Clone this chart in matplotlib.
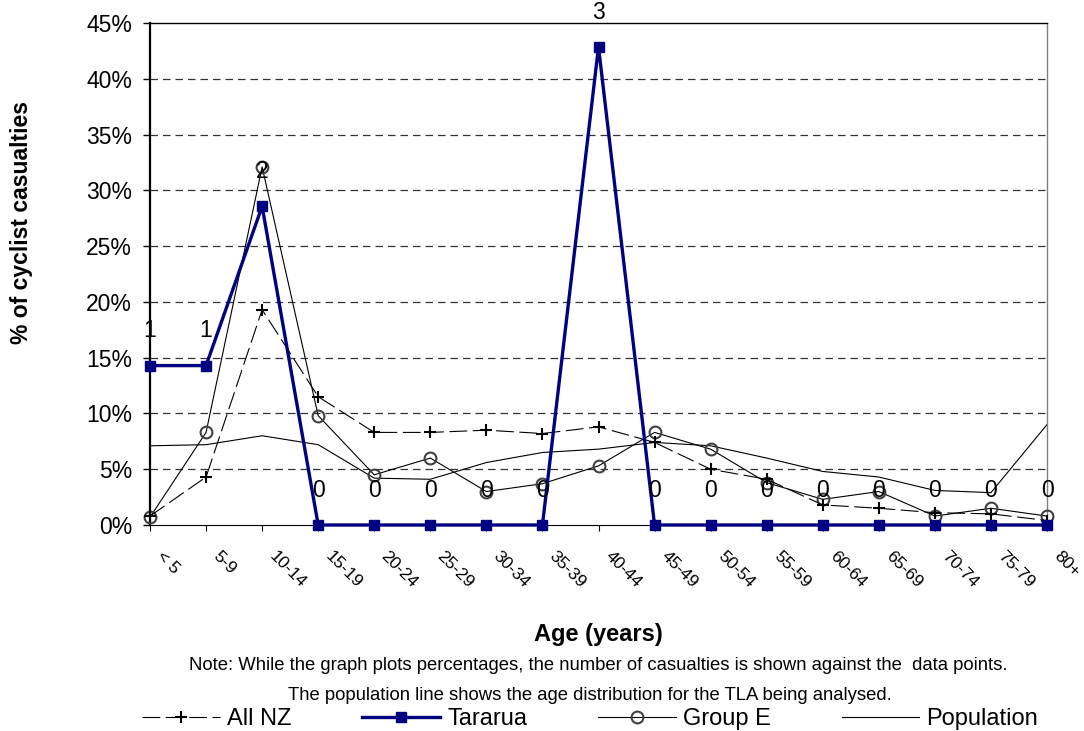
import matplotlib
matplotlib.use("Agg")
import matplotlib.pyplot as plt
import matplotlib.transforms as mtransforms
from matplotlib.ticker import FuncFormatter

plt.rcParams['font.family'] = ['Liberation Sans', 'DejaVu Sans']

# age groups
ages = ["< 5", "5-9", "10-14", "15-19", "20-24", "25-29", "30-34", "35-39", "40-44",
        "45-49", "50-54", "55-59", "60-64", "65-69", "70-74", "75-79", "80+"]

# percentages
all_nz = [0.8, 4.3, 19.3, 11.5, 8.3, 8.3, 8.5, 8.2, 8.8, 7.4, 5.0, 4.1, 1.8, 1.5, 1.1, 1.0, 0.4]
tararua = [14.29, 14.29, 28.57, 0, 0, 0, 0, 0, 42.86, 0, 0, 0, 0, 0, 0, 0, 0]
group_e = [0.7, 8.3, 32.1, 9.8, 4.5, 6.0, 3.0, 3.7, 5.3, 8.3, 6.8, 3.8, 2.3, 3.0, 0.8, 1.5, 0.8]
population = [7.1, 7.2, 8.0, 7.2, 4.2, 4.1, 5.6, 6.5, 6.8, 7.4, 7.1, 6.0, 4.8, 4.3, 3.1, 2.9, 9.0]
# number of casualties shown against Tararua points
counts = [1, 1, 2, 0, 0, 0, 0, 0, 3, 0, 0, 0, 0, 0, 0, 0, 0]

W, H = 1084, 731
fig = plt.figure(figsize=(W / 100, H / 100), dpi=100)
ax = fig.add_axes([150 / W, 1 - 525 / H, 897 / W, 502 / H])

x = list(range(len(ages)))

# gridlines
for g in range(5, 45, 5):
    ax.axhline(g, color='#333333', lw=0.9, ls=(0, (6, 4)), zorder=1)

ax.plot(x, population, color='black', lw=0.8, zorder=2, label='Population', clip_on=False)
ax.plot(x, group_e, color='black', lw=0.8, marker='o', markersize=8.5, mfc='none',
        mec='#404040', mew=1.5, zorder=3, label='Group E', clip_on=False)
ax.plot(x, all_nz, color='black', lw=0.8, ls=(0, (16, 5)), marker='+', markersize=8,
        mew=1.5, zorder=3, label='All NZ', clip_on=False)
ax.plot(x, tararua, color='#000080', lw=2.4, marker='s', markersize=7,
        zorder=4, label='Tararua', clip_on=False)

for xi, yi, c in zip(x, tararua, counts):
    ax.annotate(str(c), (xi, yi), xytext=(0, 25), textcoords='offset points',
                ha='center', va='center', fontsize=16.5, zorder=5)

ax.set_xlim(0, len(ages) - 1)
ax.set_ylim(0, 45)
ax.set_yticks(range(0, 50, 5))
ax.yaxis.set_major_formatter(FuncFormatter(lambda v, p: f"{int(v)}%"))
ax.tick_params(axis='y', direction='out', length=5, width=1, labelsize=16.5, pad=8)
ax.set_xticks(x)
ax.set_xticklabels(ages, rotation=-45, ha='left', va='top', fontsize=12.5)
ax.tick_params(axis='x', direction='out', length=4, width=0.8, pad=13)
offset = mtransforms.ScaledTranslation(3 / 72, 0, fig.dpi_scale_trans)
for lab in ax.get_xticklabels():
    lab.set_transform(lab.get_transform() + offset)

ax.spines['left'].set_linewidth(1.6)
ax.spines['bottom'].set_linewidth(0.8)
ax.spines['top'].set_linewidth(1.0)
ax.spines['right'].set_color('#808080')
ax.spines['right'].set_linewidth(1.0)

fig.text(22 / W, 1 - 222 / H, "% of cyclist casualties", rotation=90, ha='center',
         va='center', fontsize=16.5, fontweight='bold')
fig.text(598 / W, 1 - 634 / H, "Age (years)", ha='center', va='center',
         fontsize=17, fontweight='bold')
fig.text(598 / W, 1 - 666 / H,
         "Note: While the graph plots percentages, the number of casualties is shown against the  data points.",
         ha='center', va='center', fontsize=13.3)
fig.text(590 / W, 1 - 696 / H,
         "The population line shows the age distribution for the TLA being analysed.",
         ha='center', va='center', fontsize=13.3)

handles, labels = ax.get_legend_handles_labels()
order = [labels.index(n) for n in ['All NZ', 'Tararua', 'Group E', 'Population']]
fig.legend([handles[i] for i in order], [labels[i] for i in order], ncol=4,
           loc='center', bbox_to_anchor=(590 / W, 1 - 719 / H), frameon=False,
           fontsize=17, handlelength=3.3, handletextpad=0.3, columnspacing=3.0,
           borderpad=0, borderaxespad=0)

fig.savefig("out.png", dpi=100)
